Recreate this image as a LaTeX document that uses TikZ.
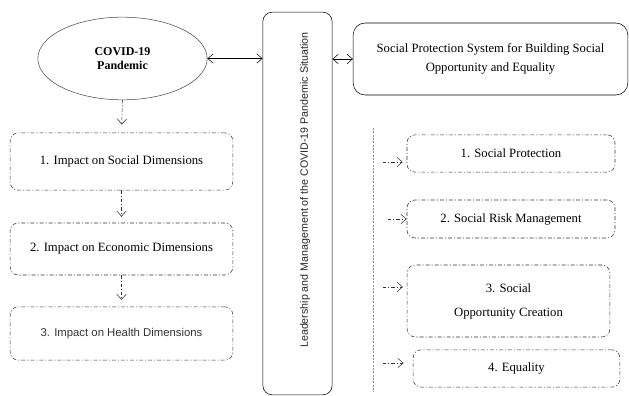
\documentclass[tikz,border=0pt]{standalone}
\usepackage{fontspec}
\setmainfont{Liberation Serif}
\setsansfont{Liberation Sans}
\usetikzlibrary{shapes.geometric,arrows.meta}

\begin{document}
\begin{tikzpicture}[x=0.75pt,y=-0.75pt,
				>={Straight Barb[length=4pt,width=7pt]},
				dashbox/.style={draw=black!80,rounded corners=6pt,dash pattern=on 3pt off 1.5pt on 0.8pt off 1.5pt,align=center,font=\fontsize{9.5}{18}\selectfont},
				dasharr/.style={->,draw=black!80,dash pattern=on 2.5pt off 1.5pt on 0.8pt off 1.5pt}]
				\useasboundingbox (0,0) rectangle (629,396);
				\node[ellipse,draw=black!70,minimum width=127pt,minimum height=62pt,align=center,font=\bfseries\fontsize{9}{10}\selectfont] (covid) at (122.5,58.5) {COVID-19\\Pandemic};
				\node[draw,rounded corners=7pt,minimum width=52pt,minimum height=287pt] (lead) at (297.5,203.5) {};
				\node[rotate=90,text=black!85,font=\sffamily\fontsize{8}{10}\selectfont] (leadtxt) at (305,190) {Leadership and Management of the COVID-19 Pandemic Situation};
				\node[draw,rounded corners=9pt,minimum width=206pt,minimum height=54pt,align=center,font=\fontsize{9.5}{14}\selectfont] (sps) at (490.5,59) {Social Protection System for Building Social\\Opportunity and Equality};
				\node[dashbox,minimum width=167pt,minimum height=43pt] (imp1) at (121.5,161.5) {1. Impact on Social Dimensions};
				\node[dashbox,minimum width=167pt,minimum height=39pt] (imp2) at (121.5,249) {2. Impact on Economic Dimensions};
				\node[dashbox,minimum width=167pt,minimum height=40pt,text=black!80,font=\sffamily\fontsize{8.5}{10}\selectfont] (imp3) at (121.5,333.5) {3. Impact on Health Dimensions};
				\node[dashbox,minimum width=156pt,minimum height=28pt] (sp1) at (511,153.5) {1. Social Protection};
				\node[dashbox,minimum width=156pt,minimum height=28.5pt] (sp2) at (511,219) {2. Social Risk Management};
				\node[dashbox,minimum width=152pt,minimum height=54pt] (sp3) at (508.5,301) {3. Social\\Opportunity Creation};
				\node[dashbox,minimum width=155pt,minimum height=28pt] (sp4) at (516.5,368.5) {4. Equality};
				\draw[<->] (covid.east) -- (covid.east -| lead.west);
				\draw[<->] (lead.east |- sps.west) -- (sps.west);
				\draw[dasharr,shorten >=6pt] (covid.south) -- (imp1.north);
				\draw[dasharr,shorten >=4.5pt] (imp1.south) -- (imp2.north);
				\draw[dasharr,shorten >=5pt] (imp2.south) -- (imp3.north);
				\coordinate (vtop) at (373,128);
				\coordinate (vbot) at (373,392);
				\draw[black!45,dash pattern=on 1.5pt off 1pt] (vtop) -- (vbot);
				\coordinate (s1) at (383,162);
				\coordinate (s2) at (388,219);
				\coordinate (s3) at (383,287);
				\coordinate (s4) at (383,363);
				\draw[dasharr,shorten >=3pt] (s1) -- (s1 -| sp1.west);
				\draw[dasharr,shorten >=0pt] (s2) -- (s2 -| sp2.west);
				\draw[dasharr,shorten >=3pt] (s3) -- (s3 -| sp3.west);
				\draw[dasharr,shorten >=7pt] (s4) -- (s4 -| sp4.west);
\end{tikzpicture}
\end{document}
